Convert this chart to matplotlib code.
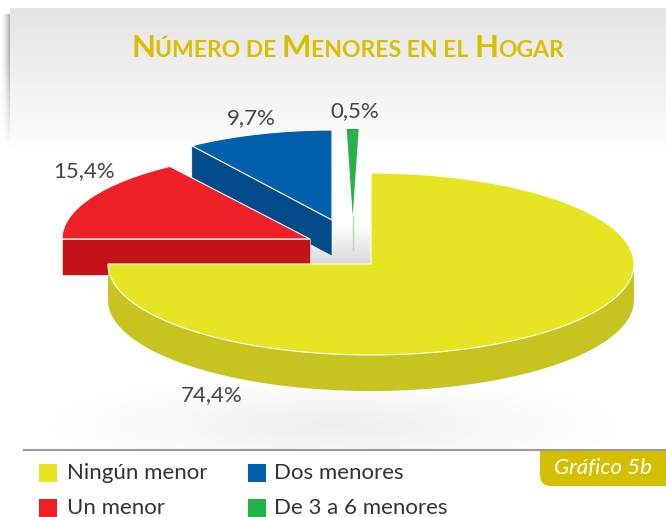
import numpy as np
import matplotlib
matplotlib.use("Agg")
import matplotlib.pyplot as plt
from matplotlib.patches import Polygon, Rectangle, FancyBboxPatch

labels = ["Ningún menor", "Un menor", "Dos menores", "De 3 a 6 menores"]
values = [74.4, 15.4, 9.7, 0.5]
top_colors = ["#e6e524", "#ee1f26", "#0060ab", "#23b24b"]
side_colors = ["#c8c41f", "#c31318", "#034b8b", "#a8dcb6"]

# apex of each slice in pixels, they are pulled apart by hand
apex_x = [371, 310, 332, 352.7]
apex_y = [264, 239, 220, 216]
rad_x = [263, 248, 248, 263]
rad_y = [91, 88, 90, 87]
depth = 36
# small angle fixes (degrees) so the cuts sit where the original has them
nudge_a = [0, 2.16, 2.3, 0.5]
nudge_b = [2.16, 2.3, 1.8, 1.3]

lab_x = [212, 84, 251, 355]
lab_y = [395, 171, 118, 111]

plt.rcParams['font.family'] = ['Lato', 'Open Sans', 'DejaVu Sans']

fig = plt.figure(figsize=(6.66, 5.17), dpi=100)
ax = fig.add_axes([0, 0, 1, 1])
ax.set_xlim(0, 666)
ax.set_ylim(517, 0)
ax.axis("off")

# -- background: panel gradient, left shadow, shadow under the pie --
yy, xx = np.mgrid[0:517, 0:666] + 0.5
shade = np.zeros((517, 666))
panel = (yy > 8) & (xx > 10)
shade[panel] = (0.105 * np.clip(1 - (yy[panel] - 8) / 150, 0, 1))
left = (xx <= 10) & (yy > 14)
shade[left] = (0.34 * (xx[left] / 10) ** 2 * np.clip(1 - (yy[left] - 60) / 90, 0, 1))
under = np.exp(-((xx - 335) / 170) ** 2 - ((yy - 425) / 30) ** 2) * 0.06
shade += under * (yy < 449)
bg = np.ones((517, 666, 3)) * (1 - shade)[..., None]
ax.imshow(bg, extent=(0, 666, 517, 0), aspect="auto", zorder=0)

# gray notch between the slices
notch = np.linspace(1, 0.855, 40)[:, None, None] * np.ones((40, 2, 3))
ax.imshow(notch, extent=(310, 371, 264, 224), aspect="auto", zorder=0.5)
ax.set_xlim(0, 666)
ax.set_ylim(517, 0)


def rim(i, a, b, n=200):
    t = np.radians(np.linspace(a, b, n))
    return apex_x[i] + rad_x[i] * np.sin(t), apex_y[i] - rad_y[i] * np.cos(t)


# -- slice angles from the values --
cum = np.concatenate([[0], np.cumsum(values)]) * 3.6
ang_a = [cum[i] + nudge_a[i] for i in range(4)]
ang_b = [cum[i + 1] + nudge_b[i] for i in range(4)]


def top(i, z):
    x, y = rim(i, ang_a[i], ang_b[i])
    pts = np.column_stack([np.r_[apex_x[i], x], np.r_[apex_y[i], y]])
    ax.add_patch(Polygon(pts, closed=True, fc=top_colors[i], ec="white", lw=0.8, zorder=z))


def cut_face(i, ang, z):
    x, y = rim(i, ang, ang, 1)
    pts = [(x[0], y[0]), (apex_x[i], apex_y[i]), (apex_x[i], apex_y[i] + depth), (x[0], y[0] + depth)]
    ax.add_patch(Polygon(pts, closed=True, fc=side_colors[i], ec="white", lw=0.4, zorder=z))


# blue
cut_face(2, ang_a[2], 2)
top(2, 3)
# red
cut_face(1, ang_a[1], 4)
top(1, 5)
# green, side is only a pale sliver
ax.plot([apex_x[3], apex_x[3]], [apex_y[3], apex_y[3] + depth - 2], color=side_colors[3], lw=1, zorder=3)
x, y = rim(3, ang_a[3], ang_b[3])
ax.add_patch(Polygon(np.column_stack([np.r_[apex_x[3], x], np.r_[apex_y[3], y]]), closed=True,
                     fc=top_colors[3], ec="none", zorder=3))
# yellow, outer wall then top
x, y = rim(0, 90, 270)
ax.add_patch(Polygon(np.column_stack([np.r_[x, x[::-1]], np.r_[y, y[::-1] + depth]]), closed=True,
                     fc=side_colors[0], ec="none", zorder=6))
top(0, 7)

for i in range(4):
    txt = f"{values[i]:.1f}%".replace(".", ",")
    ax.text(lab_x[i], lab_y[i], txt, ha="center", va="center", fontsize=16, color="#444444", zorder=8)

# -- title in small caps, pieces placed one after the other --
title_parts = [("N", 22.5), ("ÚMERO DE ", 16.5), ("M", 22.5), ("ENORES EN EL ", 16.5), ("H", 22.5), ("OGAR", 16.5)]
fig.canvas.draw()
rend = fig.canvas.get_renderer()
cx = 131
for part, size in title_parts:
    t = ax.text(cx, 57, part, fontsize=size, color="#d9bf00", fontweight="bold", ha="left", va="baseline",
                zorder=8)
    cx += t.get_window_extent(rend).width

# -- footer --
badge = FancyBboxPatch((540, 420), 150, 66, boxstyle="round,pad=0,rounding_size=11", fc="#d4bf00",
                       ec="none", zorder=7)
ax.add_patch(badge)
badge.set_clip_path(Rectangle((540, 449), 126, 40, transform=ax.transData))
ax.plot([24, 666], [449.5, 449.5], color="#9b9b9b", lw=1.5, zorder=8)
ax.text(603, 468, "Gráfico 5b", fontsize=16, style="italic", color="white", ha="center", va="center", zorder=9)

sw_x = [39, 39, 248, 248]
sw_y = [464, 499, 464, 499]
txt_off = [28, 28, 26, 26]
for i in range(4):
    ax.add_patch(Rectangle((sw_x[i], sw_y[i]), 18, 18, fc=top_colors[i], ec="none", zorder=8))
    ax.text(sw_x[i] + txt_off[i], sw_y[i] + 9, labels[i], fontsize=16, color="#333333", ha="left", va="center",
            zorder=8)

fig.savefig("out.png", dpi=100)
